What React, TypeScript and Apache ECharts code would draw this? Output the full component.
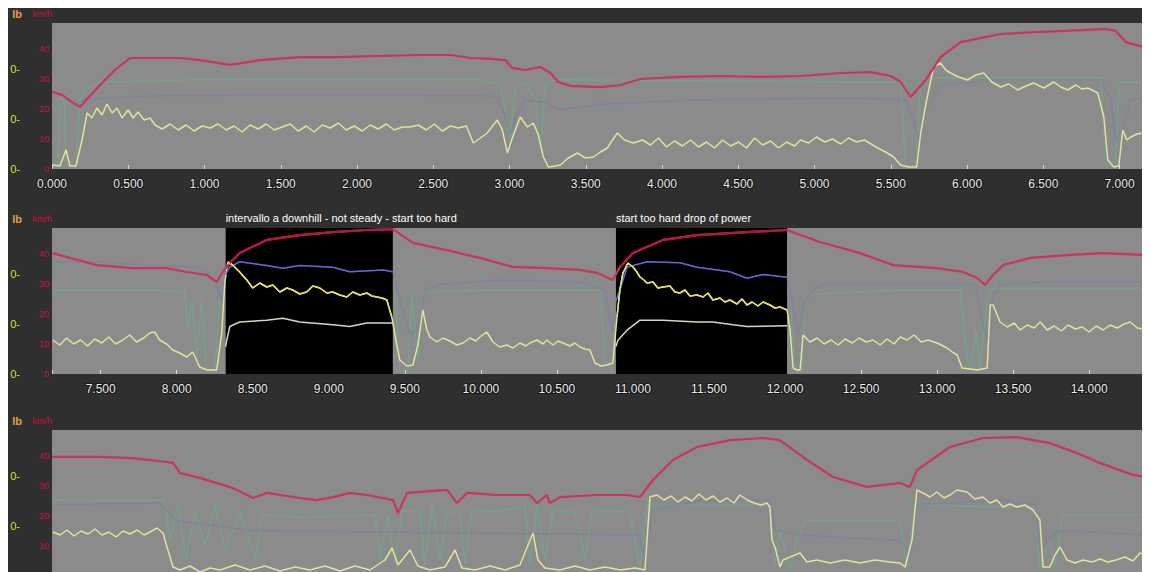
import React, { useEffect, useRef } from "react";
import * as echarts from "echarts";

// ---- axis ranges (km) per panel ----
const panelRanges: number[][] = [[0, 7.18], [7.18, 14.38], [14.38, 21.58]];
const speedRange = [0, 48.67];
const powerRange = [0, 584];
const hrRange = [40, 200];
const cadRange = [0, 160];

// ---- selected intervals (black) in panel 2 ----
const intervals = [
  { label: "intervallo a downhill - not steady - start too hard", start: 8.322, end: 9.421 },
  { label: "start too hard drop of power", start: 10.888, end: 12.013 },
];

// ---- panel 1 ----
const p1Speed = [[0.0,25.7],[0.066,24.7],[0.131,22.3],[0.184,20.7],[0.236,23.7],[0.315,28.0],[0.413,33.0],[0.512,37.0],[0.643,37.0],[0.84,37.0],[0.971,36.3],[1.168,34.7],[1.365,36.3],[1.627,37.3],[1.89,37.3],[2.152,37.7],[2.415,38.0],[2.612,38.0],[2.743,37.0],[2.874,36.7],[2.973,36.3],[3.018,33.7],[3.104,33.0],[3.202,34.0],[3.268,32.0],[3.32,29.0],[3.399,27.7],[3.596,27.3],[3.727,28.0],[3.858,30.0],[4.121,30.7],[4.383,31.0],[4.646,30.7],[4.908,31.0],[5.171,32.0],[5.368,32.3],[5.499,31.0],[5.564,29.0],[5.63,24.0],[5.683,27.0],[5.729,29.7],[5.827,37.3],[5.958,42.3],[6.221,45.0],[6.483,45.7],[6.746,46.3],[6.91,46.7],[6.975,46.0],[7.041,42.3],[7.18,40.3]];
const p1Power = [[0.0,16],[0.052,12],[0.092,76],[0.118,12],[0.157,12],[0.197,116],[0.23,224],[0.262,204],[0.295,244],[0.328,216],[0.361,260],[0.394,224],[0.427,244],[0.459,204],[0.499,236],[0.532,204],[0.564,228],[0.604,196],[0.643,204],[0.676,176],[0.722,160],[0.774,180],[0.827,156],[0.879,176],[0.932,152],[0.984,172],[1.037,164],[1.089,180],[1.142,156],[1.194,172],[1.247,148],[1.299,176],[1.352,160],[1.404,180],[1.457,156],[1.509,168],[1.562,180],[1.614,152],[1.667,172],[1.719,148],[1.772,176],[1.824,164],[1.877,184],[1.929,156],[1.982,172],[2.034,152],[2.087,176],[2.139,160],[2.192,180],[2.244,156],[2.297,168],[2.349,168],[2.402,176],[2.454,156],[2.507,180],[2.559,152],[2.612,172],[2.664,164],[2.717,172],[2.763,104],[2.809,124],[2.854,144],[2.894,176],[2.92,196],[2.953,156],[2.986,64],[3.025,136],[3.071,208],[3.117,168],[3.156,184],[3.189,136],[3.222,48],[3.255,8],[3.3,12],[3.333,16],[3.386,44],[3.445,64],[3.498,44],[3.55,48],[3.596,68],[3.642,84],[3.675,116],[3.708,144],[3.754,116],[3.813,104],[3.872,116],[3.924,96],[3.977,124],[4.029,88],[4.082,112],[4.134,92],[4.187,116],[4.239,88],[4.292,108],[4.344,84],[4.397,116],[4.449,92],[4.502,108],[4.554,84],[4.607,124],[4.659,96],[4.712,112],[4.764,84],[4.817,108],[4.869,92],[4.908,116],[4.961,104],[5.013,128],[5.066,108],[5.118,120],[5.171,100],[5.223,124],[5.276,108],[5.328,116],[5.381,96],[5.414,84],[5.466,68],[5.519,48],[5.564,16],[5.617,8],[5.67,8],[5.696,144],[5.735,276],[5.781,408],[5.827,424],[5.86,396],[5.892,384],[5.945,368],[6.004,356],[6.057,376],[6.109,384],[6.162,348],[6.221,328],[6.273,340],[6.332,316],[6.385,332],[6.437,344],[6.503,324],[6.569,348],[6.615,328],[6.66,316],[6.713,336],[6.752,320],[6.792,324],[6.857,304],[6.897,208],[6.923,36],[6.962,8],[6.995,12],[7.021,156],[7.048,116],[7.074,128],[7.114,140],[7.16,144],[7.18,136]];
const p1Hr = [[0.138,110],[0.217,116],[0.381,118],[0.643,120],[1.299,121],[2.284,121],[2.907,120],[2.973,99],[3.005,79],[3.038,96],[3.104,116],[3.235,113],[3.333,105],[3.596,111],[4.252,116],[5.237,118],[5.597,116],[5.65,94],[5.683,72],[5.729,105],[5.827,132],[6.221,138],[6.877,138],[6.943,116],[6.975,72],[7.021,83],[7.074,116],[7.18,118]];
const p1Cad = [[0.0,4],[0.039,4],[0.052,76],[0.079,76],[0.092,4],[0.157,4],[0.184,76],[0.223,89],[0.315,95],[0.971,98],[1.627,98],[2.809,98],[2.94,92],[2.973,65],[3.005,32],[3.038,92],[3.104,95],[3.169,76],[3.202,21],[3.235,95],[3.333,98],[5.564,95],[5.597,4],[5.663,4],[5.696,95],[5.827,100],[6.877,100],[6.91,4],[6.975,4],[6.995,87],[7.008,95],[7.18,95]];

// ---- panel 2 ----
const p2Speed = [[7.184,40.3],[7.474,36.3],[7.711,35.3],[7.934,35.3],[8.066,34.0],[8.197,33.0],[8.263,30.7],[8.303,34.0],[8.349,37.0],[8.414,40.3],[8.592,44.7],[8.809,46.3],[9.026,47.3],[9.25,48.0],[9.421,48.3],[9.553,43.7],[9.776,41.3],[9.993,38.7],[10.211,35.7],[10.434,35.3],[10.651,34.7],[10.763,33.7],[10.868,31.3],[10.914,35.7],[11.0,40.3],[11.197,44.7],[11.421,46.3],[11.75,47.3],[12.013,48.0],[12.23,44.0],[12.493,40.3],[12.711,36.3],[13.0,35.3],[13.171,34.0],[13.263,32.0],[13.316,29.7],[13.368,33.0],[13.434,36.3],[13.612,38.7],[13.875,39.7],[14.092,40.3],[14.355,39.7],[14.382,39.7]];
const p2Power = [[7.184,136],[7.23,116],[7.276,144],[7.322,120],[7.368,136],[7.414,112],[7.461,140],[7.507,124],[7.553,148],[7.599,120],[7.645,136],[7.691,156],[7.737,128],[7.783,144],[7.822,164],[7.855,168],[7.888,136],[7.934,120],[7.974,96],[8.02,84],[8.066,68],[8.105,88],[8.151,28],[8.197,16],[8.263,16],[8.296,164],[8.316,364],[8.336,448],[8.368,436],[8.414,408],[8.461,376],[8.5,344],[8.546,364],[8.592,348],[8.632,356],[8.678,328],[8.724,344],[8.763,336],[8.809,320],[8.855,328],[8.895,352],[8.941,344],[8.987,324],[9.026,328],[9.072,316],[9.118,308],[9.158,328],[9.204,316],[9.25,324],[9.283,312],[9.316,308],[9.349,304],[9.382,296],[9.414,228],[9.441,136],[9.467,56],[9.513,32],[9.553,36],[9.586,116],[9.618,256],[9.645,176],[9.664,148],[9.711,128],[9.75,144],[9.796,132],[9.842,116],[9.882,124],[9.928,144],[9.967,132],[9.993,148],[10.039,168],[10.079,128],[10.125,108],[10.171,116],[10.211,104],[10.257,124],[10.296,112],[10.322,124],[10.368,136],[10.408,120],[10.434,136],[10.474,116],[10.507,132],[10.539,124],[10.586,112],[10.618,124],[10.651,108],[10.684,100],[10.717,96],[10.75,44],[10.789,32],[10.829,36],[10.868,44],[10.895,228],[10.914,336],[10.934,404],[10.967,444],[11.0,428],[11.026,408],[11.046,388],[11.072,376],[11.092,364],[11.132,368],[11.164,344],[11.197,348],[11.243,352],[11.276,328],[11.309,324],[11.342,336],[11.375,312],[11.421,316],[11.461,308],[11.493,324],[11.526,296],[11.572,304],[11.605,288],[11.638,296],[11.684,280],[11.717,300],[11.75,276],[11.783,288],[11.822,272],[11.855,288],[11.901,276],[11.934,264],[11.967,268],[12.013,256],[12.033,176],[12.053,24],[12.079,16],[12.099,16],[12.118,156],[12.164,128],[12.211,144],[12.257,120],[12.303,136],[12.349,116],[12.395,140],[12.441,124],[12.487,144],[12.533,128],[12.579,136],[12.625,116],[12.671,140],[12.717,120],[12.757,148],[12.803,136],[12.849,156],[12.895,128],[12.941,136],[13.0,124],[13.066,104],[13.099,88],[13.132,76],[13.164,24],[13.217,20],[13.263,16],[13.329,24],[13.349,276],[13.368,276],[13.395,236],[13.414,208],[13.461,188],[13.507,204],[13.546,176],[13.592,196],[13.638,184],[13.678,208],[13.724,176],[13.77,192],[13.816,172],[13.862,196],[13.908,180],[13.954,188],[14.0,168],[14.046,192],[14.092,176],[14.138,196],[14.184,184],[14.23,200],[14.27,208],[14.316,184],[14.355,180],[14.382,184]];
const p2Hr = [[7.184,163],[7.493,163],[7.822,159],[8.151,157],[8.25,143],[8.296,121],[8.322,149],[8.349,157],[8.414,163],[8.592,159],[8.697,156],[8.809,159],[9.026,157],[9.138,152],[9.355,154],[9.421,152],[9.467,121],[9.533,83],[9.586,88],[9.632,132],[9.73,138],[10.125,143],[10.651,141],[10.816,132],[10.862,88],[10.888,120],[10.914,132],[10.961,157],[11.092,163],[11.309,162],[11.421,157],[11.638,152],[11.75,145],[11.855,149],[12.013,146],[12.046,121],[12.086,83],[12.132,121],[12.23,138],[12.757,138],[13.25,138],[13.296,99],[13.329,77],[13.362,121],[13.414,138],[13.743,141],[14.382,141]];
const p2Cad = [[7.184,92],[7.822,92],[8.053,90],[8.072,48],[8.099,81],[8.132,15],[8.164,81],[8.197,4],[8.25,4],[8.283,81],[8.316,94],[8.33,null],[9.434,92],[9.467,4],[9.52,4],[9.546,87],[9.586,15],[9.612,90],[10.125,92],[10.783,92],[10.816,15],[10.862,4],[10.888,81],[10.9,null],[12.033,81],[12.066,4],[12.112,4],[12.138,87],[12.757,92],[13.151,92],[13.184,37],[13.217,4],[13.257,48],[13.283,4],[13.329,81],[13.368,94],[14.382,94]];
const p2Torque = [[8.322,30],[8.329,37],[8.349,52],[8.414,57],[8.592,59],[8.697,61],[8.809,57],[9.026,54],[9.092,53],[9.138,52],[9.25,56],[9.421,56],[9.43,null],[10.888,30],[10.901,37],[10.961,48],[11.046,59],[11.197,59],[11.421,57],[11.526,57],[11.658,54],[11.75,52],[12.013,53]];

// ---- panel 3 ----
const p3Speed = [[14.38,39.7],[14.696,39.7],[14.913,39.3],[15.136,38.0],[15.176,37.7],[15.222,34.3],[15.353,32.7],[15.57,29.3],[15.702,26.0],[15.794,27.7],[16.011,26.0],[16.122,25.3],[16.227,26.3],[16.339,27.7],[16.451,27.0],[16.622,25.3],[16.655,21.0],[16.714,27.7],[16.977,28.7],[17.043,24.3],[17.108,27.7],[17.306,27.0],[17.523,27.0],[17.569,24.3],[17.634,27.0],[17.654,24.3],[17.72,26.3],[17.963,27.0],[18.16,27.0],[18.246,26.3],[18.331,32.0],[18.463,38.7],[18.621,43.0],[18.838,45.3],[19.055,46.0],[19.166,45.3],[19.344,38.7],[19.515,33.0],[19.738,29.7],[19.955,31.0],[20.021,29.7],[20.067,35.3],[20.284,43.0],[20.501,46.0],[20.724,46.3],[20.941,44.3],[21.119,41.0],[21.27,37.7],[21.487,33.7],[21.58,33.0]];
const p3Power = [[14.387,176],[14.433,164],[14.479,184],[14.525,160],[14.571,180],[14.617,168],[14.663,188],[14.709,164],[14.755,176],[14.801,156],[14.847,180],[14.893,168],[14.939,184],[14.985,164],[15.024,176],[15.07,192],[15.11,172],[15.136,116],[15.176,36],[15.222,24],[15.287,40],[15.353,16],[15.419,32],[15.485,24],[15.583,44],[15.682,24],[15.78,40],[15.879,20],[15.978,36],[16.076,24],[16.175,40],[16.274,20],[16.372,40],[16.471,24],[16.569,64],[16.616,112],[16.655,44],[16.734,104],[16.786,40],[16.865,24],[16.964,36],[17.03,104],[17.076,32],[17.161,24],[17.26,40],[17.359,24],[17.457,44],[17.51,124],[17.543,172],[17.575,64],[17.621,32],[17.72,24],[17.819,40],[17.917,24],[18.016,36],[18.115,24],[18.213,32],[18.279,24],[18.312,316],[18.358,324],[18.404,304],[18.45,320],[18.496,296],[18.542,316],[18.588,300],[18.634,328],[18.68,304],[18.726,320],[18.772,296],[18.818,312],[18.864,292],[18.904,324],[18.95,304],[18.996,292],[19.042,284],[19.081,292],[19.101,276],[19.114,144],[19.134,116],[19.167,36],[19.186,64],[19.232,76],[19.298,92],[19.344,56],[19.41,64],[19.495,52],[19.594,64],[19.693,52],[19.791,64],[19.89,56],[19.956,52],[19.989,36],[20.035,144],[20.067,344],[20.107,332],[20.153,316],[20.199,336],[20.245,312],[20.284,324],[20.33,344],[20.396,336],[20.449,308],[20.501,316],[20.547,292],[20.593,304],[20.633,276],[20.679,288],[20.725,276],[20.777,284],[20.83,264],[20.876,224],[20.896,36],[20.942,36],[20.975,84],[21.008,116],[21.054,64],[21.106,52],[21.159,64],[21.218,56],[21.271,68],[21.323,56],[21.376,64],[21.435,76],[21.488,60],[21.534,92],[21.58,80]];
const p3Hr = [[14.387,118],[15.09,120],[15.189,101],[15.682,90],[16.668,88],[18.246,85],[18.279,58],[18.325,112],[18.641,123],[19.101,123],[19.134,90],[19.298,85],[19.956,79],[20.021,63],[20.067,118],[20.613,123],[20.843,118],[20.876,68],[20.922,79],[21.008,90],[21.58,85]];
const p3Cad = [[14.387,83],[15.123,83],[15.156,39],[15.208,78],[15.261,18],[15.32,72],[15.386,34],[15.452,78],[15.517,28],[15.616,70],[15.715,18],[15.761,67],[16.011,64],[16.504,67],[16.537,18],[16.589,67],[16.635,12],[16.681,72],[16.8,70],[16.832,12],[16.879,78],[16.931,18],[16.977,72],[17.063,67],[17.096,12],[17.142,72],[17.326,70],[17.49,78],[17.523,12],[17.569,78],[17.622,18],[17.674,72],[17.819,70],[17.885,18],[17.931,72],[18.18,70],[18.246,7],[18.292,78],[19.101,78],[19.134,12],[19.167,50],[19.232,7],[19.278,39],[19.331,61],[19.956,61],[20.002,7],[20.054,78],[20.843,75],[20.876,7],[20.942,39],[20.975,7],[21.021,67],[21.58,67]];

const speedSeries = [p1Speed, p2Speed, p3Speed];
const powerSeries = [p1Power, p2Power, p3Power];
const hrSeries = [p1Hr, p2Hr, p3Hr];
const cadSeries = [p1Cad, p2Cad, p3Cad];

const COLORS = {
  bg: "#2f2f2f",
  plot: "#8b8b8b",
  speedOut: "#c8365a",
  speedIn: "#b0183e",
  powerOut: "#e2e29c",
  powerIn: "#e0e064",
  hrOut: "rgba(112,112,196,0.35)",
  hrIn: "#6464d4",
  cad: "rgba(88,196,140,0.42)",
  torque: "#d6d6c4",
  xLabel: "#ececec",
  red: "#cc1038",
  yellow: "#dede3a",
  orange: "#e2a23a",
};

const gridTops = [15, 220, 422];

function fmtKm(v: number) {
  const twice = v * 2;
  if (Math.abs(twice - Math.round(twice)) > 1e-6) return "";
  return v.toFixed(3);
}

// keeps only the points that fall inside the selected (black) intervals
function insideSelection(data: any[]) {
  const out: any[] = [];
  let prevIn = false;
  for (const p of data) {
    const isIn = p[1] != null && intervals.some((iv) => p[0] >= iv.start - 1e-9 && p[0] <= iv.end + 1e-9);
    if (isIn) out.push(p);
    else if (prevIn) out.push([p[0], null]);
    prevIn = isIn;
  }
  return out;
}

function buildOption() {
  const grid = gridTops.map((top) => ({
    left: 44, top, width: 1095, height: 146, show: true,
    backgroundColor: COLORS.plot, borderWidth: 0,
    containLabel: false, outerBoundsMode: "none",
  }));
  // the third panel runs past the bottom of the page, its axis labels are off-screen
  const xAxis = panelRanges.map((r, g) => ({
    type: "value", gridIndex: g, min: r[0], max: r[1],
    ...(g === 0 ? { interval: 0.5 } : { splitNumber: 14 }),
    splitLine: { show: false },
    axisLine: { show: false },
    axisTick: { show: g < 2, inside: true, length: 4, lineStyle: { color: "#dcdcdc" } },
    axisLabel: {
      show: g < 2,
      color: COLORS.xLabel, fontSize: 12, margin: 9, showMaxLabel: false,
      textBorderColor: "rgba(0,0,0,0.55)", textBorderWidth: 2,
      formatter: (v: number) => fmtKm(v),
    },
  }));
  const yAxis: any[] = [];
  panelRanges.forEach((_, g) => {
    yAxis.push({
      type: "value", gridIndex: g, min: speedRange[0], max: speedRange[1], interval: 10,
      position: "left", splitLine: { show: false }, axisLine: { show: false }, axisTick: { show: false },
      axisLabel: { color: COLORS.red, fontSize: 9, margin: 3, showMaxLabel: false, showMinLabel: g < 2,
        formatter: (v: number) => (v % 10 === 0 ? String(v) : "") },
      name: "km/h", nameLocation: "end", nameGap: 5,
      nameTextStyle: { color: COLORS.red, fontSize: 9, align: "right" },
    });
    yAxis.push({
      type: "value", gridIndex: g, min: powerRange[0], max: powerRange[1], interval: 200,
      position: "left", offset: 30, splitLine: { show: false }, axisLine: { show: false }, axisTick: { show: false },
      axisLabel: { color: COLORS.yellow, fontSize: 11, margin: 2, showMaxLabel: false, showMinLabel: g < 2,
        formatter: (v: number) => (v % 200 === 0 ? "0-" : "") },
      name: "lb", nameLocation: "end", nameGap: 4,
      nameTextStyle: { color: COLORS.orange, fontSize: 11, fontWeight: "bold", align: "right" },
    });
    yAxis.push({ type: "value", gridIndex: g, min: hrRange[0], max: hrRange[1], show: false });
    yAxis.push({ type: "value", gridIndex: g, min: cadRange[0], max: cadRange[1], show: false });
  });

  const series: any[] = [];
  const line = (name: string, data: any[], g: number, k: number, color: string, width: number, z: number) => ({
    type: "line", name, data, xAxisIndex: g, yAxisIndex: g * 4 + k,
    showSymbol: false, symbol: "none", silent: true, connectNulls: false, z,
    lineStyle: { color, width }, itemStyle: { color },
  });

  // black selected intervals + annotations (panel 2)
  series.push({
    type: "line", xAxisIndex: 1, yAxisIndex: 4, data: [], z: 1, silent: true,
    markArea: {
      silent: true,
      itemStyle: { color: "#000" },
      label: { show: true, position: [0, -16], color: "#ffffff", fontSize: 11 },
      data: intervals.map((iv) => [{ name: iv.label, xAxis: iv.start }, { xAxis: iv.end }]),
    },
  });

  for (let g = 0; g < 3; g++) {
    series.push(line("cadence", cadSeries[g], g, 3, COLORS.cad, 1.4, 2));
    series.push(line("heart rate", hrSeries[g], g, 2, COLORS.hrOut, 1.5, 3));
    series.push(line("power", powerSeries[g], g, 1, COLORS.powerOut, 1.5, 4));
    series.push(line("speed", speedSeries[g], g, 0, COLORS.speedOut, 2.2, 5));
    if (g === 1) {
      // brighter traces inside the selected intervals
      series.push(line("heart rate (selected)", insideSelection(p2Hr), 1, 2, COLORS.hrIn, 1.5, 6));
      series.push(line("torque", p2Torque, 1, 3, COLORS.torque, 1.5, 6));
      series.push(line("power (selected)", insideSelection(p2Power), 1, 1, COLORS.powerIn, 1.5, 7));
      series.push(line("speed (selected)", insideSelection(p2Speed), 1, 0, COLORS.speedIn, 2.2, 8));
    }
  }

  return {
    animation: false,
    backgroundColor: COLORS.bg,
    textStyle: { fontFamily: "Liberation Sans, Arial, sans-serif" },
    grid, xAxis, yAxis, series,
  };
}

export default function App() {
  const ref = useRef<HTMLDivElement>(null);
  useEffect(() => {
    document.body.style.overflow = "hidden";
    const chart = echarts.init(ref.current as HTMLDivElement, null, { renderer: "svg" });
    chart.setOption(buildOption() as any);
    return () => chart.dispose();
  }, []);
  return <div ref={ref} style={{ width: 1142, height: 564, background: COLORS.bg }} />;
}
